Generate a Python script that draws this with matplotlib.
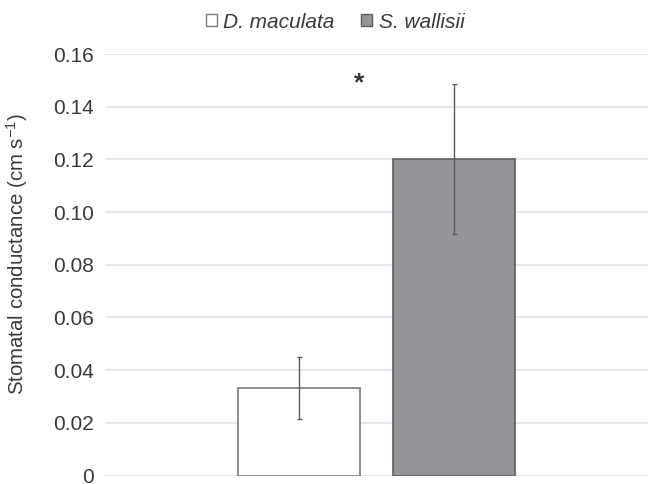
import matplotlib.pyplot as plt
from matplotlib.patches import Patch

plt.rcParams['font.family'] = ['Liberation Sans', 'DejaVu Sans']

species = ['D. maculata', 'S. wallisii']
conductance = [0.0332, 0.1203]
conductance_err = [0.0118, 0.0285]
y_ticks = [0, 0.02, 0.04, 0.06, 0.08, 0.10, 0.12, 0.14, 0.16]
y_tick_labels = ['0', '0.02', '0.04', '0.06', '0.08', '0.10', '0.12', '0.14', '0.16']
signif_label = '*'
signif_y = 0.1488

face_colors = ['white', '#939598']
edge_colors = ['#7a7a7a', '#5e5e60']
text_color = '#3a3a3a'

fig = plt.figure(figsize=(6.48, 4.84), dpi=100)
ax = fig.add_axes([105 / 648, 8.5 / 484, 543 / 648, 421.5 / 484])

offsets = [-0.142, 0.142]
width = 0.225
for x, val, err, fc, ec in zip(offsets, conductance, conductance_err, face_colors, edge_colors):
    ax.bar(x, val, width=width, color=fc, edgecolor=ec, linewidth=1.2, zorder=2)
    ax.errorbar(x, val, yerr=err, fmt='none', ecolor='#5a5a5a', elinewidth=1.0,
                capsize=1.8, capthick=1.0, zorder=3)

ax.text(-0.032, signif_y, signif_label, ha='center', va='center', fontsize=19,
        fontweight='bold', color=text_color)

ax.set_xlim(-0.5, 0.5)
ax.set_ylim(0, 0.16)
ax.set_yticks(y_ticks)
ax.set_yticklabels(y_tick_labels)
ax.set_xticks([])
ax.tick_params(axis='y', length=0, pad=8, labelsize=15, labelcolor=text_color)
ax.grid(axis='y', color='#e6e6e6', linewidth=1.5, zorder=0)
ax.set_axisbelow(True)
for spine in ax.spines.values():
    spine.set_visible(False)

ax.set_ylabel('Stomatal conductance (cm s$^{\\mathregular{-1}}$)', fontsize=14.7,
              color=text_color)
ax.yaxis.set_label_coords(-0.138, 0.525)

handles = [Patch(facecolor=fc, edgecolor=ec, linewidth=1.0)
           for fc, ec in zip(face_colors, edge_colors)]
fig.legend(handles, species, loc='center', bbox_to_anchor=(335 / 648, 1 - 22 / 484),
           ncol=2, frameon=False, handlelength=0.55, handleheight=0.55,
           handletextpad=0.3, columnspacing=1.25,
           prop={'style': 'italic', 'size': 15}, labelcolor=text_color)

fig.savefig('out.png', dpi=100)
